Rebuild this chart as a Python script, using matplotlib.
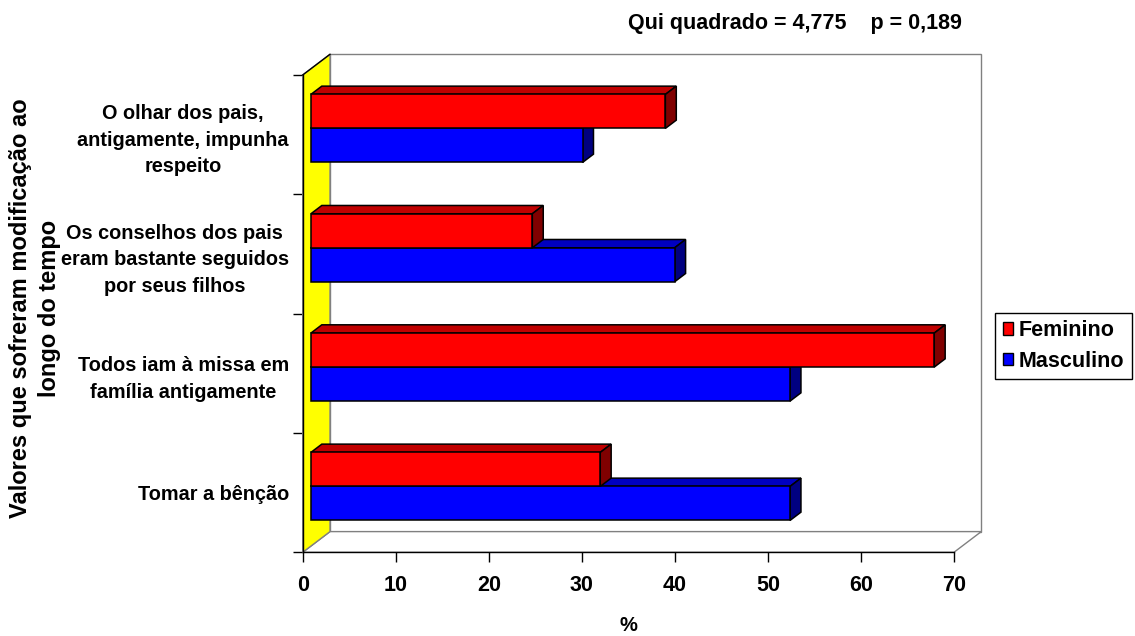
import matplotlib
matplotlib.use("Agg")
import matplotlib.pyplot as plt
from matplotlib.patches import Polygon, Patch

plt.rcParams["font.family"] = ["Liberation Sans", "DejaVu Sans"]
plt.rcParams["font.weight"] = "bold"

# ---- data -------------------------------------------------------------
categories = [
    "Tomar a bênção",
    "Todos iam à missa em\nfamília antigamente",
    "Os conselhos dos pais\neram bastante seguidos\npor seus filhos",
    "O olhar dos pais,\nantigamente, impunha\nrespeito",
]
feminino = [31.1, 67.0, 23.8, 38.1]
masculino = [51.5, 51.5, 39.1, 29.2]
series_names = ["Feminino", "Masculino"]
x_ticks = [0, 10, 20, 30, 40, 50, 60, 70]
title_text = "Qui quadrado = 4,775    p = 0,189"
y_label = "Valores que sofreram modificação ao\nlongo do tempo"
x_label = "%"

# ---- styling ----------------------------------------------------------
RED = ("#FF0000", "#C00000", "#800000")    # front, top, side
BLUE = ("#0000FF", "#0000C0", "#000080")
WALL_EDGE = "#808080"
DX, DY = 2.934, 0.1735        # depth offset of the back plane (data units)
F1, F2 = 0.30, 0.70           # depth span of the bars (fraction of DX/DY)
BAR_H = 0.285

fig = plt.figure(figsize=(11.35, 6.36), dpi=100)
ax = fig.add_axes([0.2667, 0.1316, 0.5738, 0.7505])
ax.set_xlim(x_ticks[0], x_ticks[-1])
ax.set_ylim(-0.5, len(categories) - 0.5)
ax.patch.set_visible(False)

xmin, xmax = ax.get_xlim()
ymin, ymax = ax.get_ylim()


def poly(pts, fc, ec, lw=1.0, z=1):
    ax.add_patch(Polygon(pts, closed=True, facecolor=fc, edgecolor=ec,
                         linewidth=lw, zorder=z, clip_on=False,
                         joinstyle="miter"))


# back wall, floor and yellow side wall
poly([(xmin + DX, ymin + DY), (xmax + DX, ymin + DY),
      (xmax + DX, ymax + DY), (xmin + DX, ymax + DY)], "white", WALL_EDGE, 1.0, 1)
poly([(xmin, ymin), (xmax, ymin), (xmax + DX, ymin + DY),
      (xmin + DX, ymin + DY)], "white", WALL_EDGE, 1.0, 1)
poly([(xmin, ymin), (xmin + DX, ymin + DY), (xmin + DX, ymax + DY),
      (xmin, ymax)], "#FFFF00", WALL_EDGE, 1.0, 2)
ax.plot([xmin, xmin + DX], [ymax, ymax + DY], color="black", lw=1.0,
        zorder=3, clip_on=False)


def bar3d(v, y0, h, colors, z):
    front, top, side = colors
    ox1, oy1 = F1 * DX, F1 * DY
    ox2, oy2 = F2 * DX, F2 * DY
    y1 = y0 + h
    poly([(xmin + ox1, y1 + oy1), (v + ox1, y1 + oy1),
          (v + ox2, y1 + oy2), (xmin + ox2, y1 + oy2)], top, "black", 1.1, z)
    poly([(v + ox1, y0 + oy1), (v + ox2, y0 + oy2),
          (v + ox2, y1 + oy2), (v + ox1, y1 + oy1)], side, "black", 1.1, z)
    poly([(xmin + ox1, y0 + oy1), (v + ox1, y0 + oy1),
          (v + ox1, y1 + oy1), (xmin + ox1, y1 + oy1)], front, "black", 1.1, z)


for i, (f, m) in enumerate(zip(feminino, masculino)):
    bar3d(m, i - BAR_H, BAR_H, BLUE, 4 + 2 * i)
    bar3d(f, i, BAR_H, RED, 5 + 2 * i)

# axes lines and ticks
for s in ("top", "right"):
    ax.spines[s].set_visible(False)
for s in ("left", "bottom"):
    ax.spines[s].set_color("black")
    ax.spines[s].set_linewidth(1.0)
    ax.spines[s].set_zorder(20)

ax.set_xticks(x_ticks)
ax.set_xticklabels([str(t) for t in x_ticks], fontsize=15.5, fontweight="bold")
ax.tick_params(axis="x", direction="out", length=7.5, width=1.0,
               color="black", pad=8.5)

boundaries = [k - 0.5 for k in range(len(categories) + 1)]
ax.set_yticks(boundaries)
ax.set_yticklabels([""] * len(boundaries))
ax.tick_params(axis="y", which="major", direction="out", length=7.5,
               width=1.0, color="black")
ax.set_yticks(range(len(categories)), minor=True)
ax.set_yticklabels(categories, minor=True, fontsize=14.3, fontweight="bold")
ax.tick_params(axis="y", which="minor", length=0, pad=10)
for lab in ax.get_yticklabels(minor=True):
    lab.set_multialignment("center")
    lab.set_linespacing(1.5)

ax.set_xlabel(x_label, fontsize=14.5, fontweight="bold", labelpad=14.5)

fig.text(35 / 1135, 1 - 308 / 636, y_label, rotation=90, ha="center",
         va="center", multialignment="center", fontsize=17,
         fontweight="bold", linespacing=1.3)

fig.text(962 / 1135, 1 - 23 / 636, title_text, ha="right", va="center",
         fontsize=15.5, fontweight="bold")

handles = [Patch(facecolor=RED[0], edgecolor="black", linewidth=1.0),
           Patch(facecolor=BLUE[0], edgecolor="black", linewidth=1.0)]
leg = fig.legend(handles, series_names, loc="center left",
                 bbox_to_anchor=(995 / 1135, 1 - 346 / 636),
                 frameon=True, fancybox=False, edgecolor="black",
                 framealpha=1, prop={"size": 15.5, "weight": "bold"},
                 handlelength=0.5, handleheight=0.5, handletextpad=0.25,
                 labelspacing=0.45, borderpad=0.35, borderaxespad=0)
leg.get_frame().set_linewidth(1.0)

fig.savefig("out.png", dpi=100)
